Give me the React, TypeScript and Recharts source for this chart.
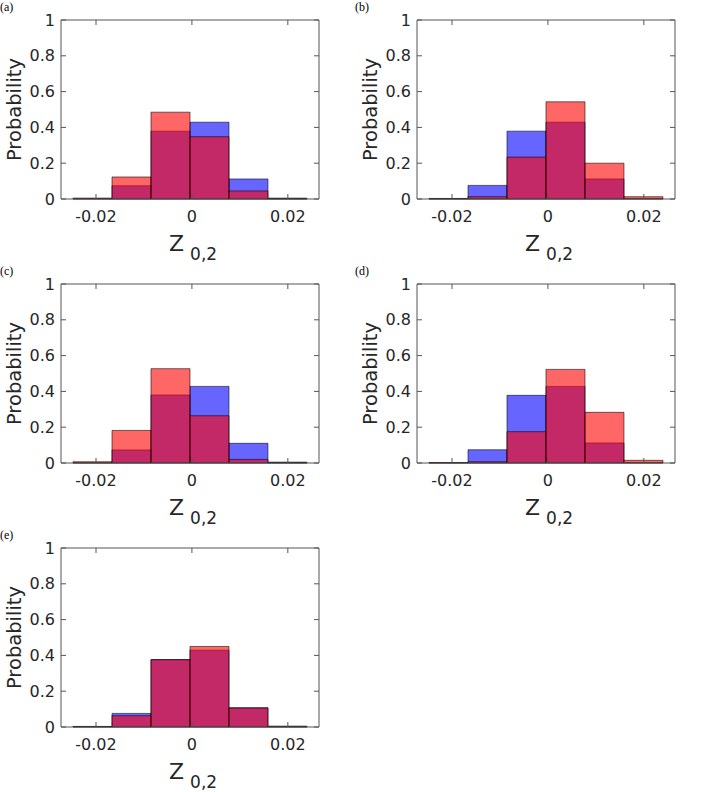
import React from 'react';
import { ComposedChart, Bar, XAxis, YAxis } from 'recharts';

// histogram bins (centres of the six bins) and axis ticks
const binCenters = [-0.02073, -0.0126, -0.00447, 0.00366, 0.01179, 0.01992];
const xTicks = [-0.02, 0, 0.02];
const yTicks = [0, 0.2, 0.4, 0.6, 0.8, 1];
const xDomain: [number, number] = [-0.0273, 0.0265];

// probabilities per bin
const blueA = [0.003, 0.074, 0.379, 0.429, 0.112, 0.005];
const redA = [0.005, 0.123, 0.485, 0.348, 0.045, 0.002];
const blueB = [0.003, 0.076, 0.379, 0.429, 0.112, 0.003];
const redB = [0.002, 0.013, 0.234, 0.543, 0.2, 0.013];
const blueC = [0.002, 0.073, 0.38, 0.428, 0.11, 0.005];
const redC = [0.007, 0.182, 0.527, 0.264, 0.02, 0.002];
const blueD = [0.002, 0.074, 0.378, 0.428, 0.112, 0.003];
const redD = [0.002, 0.007, 0.175, 0.523, 0.283, 0.015];
const blueE = [0.003, 0.076, 0.377, 0.429, 0.108, 0.004];
const redE = [0.003, 0.063, 0.376, 0.45, 0.106, 0.004];

const panelTags = ['(a)', '(b)', '(c)', '(d)', '(e)'];

const axisColor = '#555555';
const textColor = '#262626';
const font = 'DejaVu Sans, sans-serif';
const tickStyle = { fill: textColor, fontSize: 16, fontFamily: font };
const blank = () => '';

const ZLabel = (props: any) => {
  const { viewBox } = props;
  const cx = viewBox.x + viewBox.width / 2;
  return (
    <text x={cx - 21} y={viewBox.y + 52} fill={textColor} fontFamily={font}>
      <tspan fontSize={22}>Z</tspan>
      <tspan fontSize={17} dx={6} dy={9}>0,2</tspan>
    </text>
  );
};

const ProbLabel = (props: any) => {
  const { viewBox } = props;
  const x = viewBox.x + 21;
  const y = viewBox.y + viewBox.height / 2;
  return (
    <text x={x} y={y} transform={`rotate(-90, ${x}, ${y})`} textAnchor="middle" fill={textColor} fontFamily={font} fontSize={19.5}>
      Probability
    </text>
  );
};

interface PanelProps {
  blue: number[];
  red: number[];
  left: number;
  top: number;
  tag: string;
  tagLeft: number;
}

const HistPanel: React.FC<PanelProps> = ({ blue, red, left, top, tag, tagLeft }) => {
  const data = binCenters.map((c, i) => ({ c, blue: blue[i], red: red[i] }));
  return (
    <>
      <div style={{ position: 'absolute', left: tagLeft, top: top + 1, fontFamily: 'Liberation Serif, serif', fontSize: 12, lineHeight: '12px', color: '#000' }}>
        {tag}
      </div>
      <div style={{ position: 'absolute', left, top, width: 340, height: 268 }}>
        <ComposedChart width={340} height={268} data={data} margin={{ top: 18, right: 19, left: 0, bottom: 8 }} barCategoryGap={0} barGap={0}>
          <XAxis xAxisId="bottom" dataKey="c" type="number" domain={xDomain} ticks={xTicks} allowDataOverflow interval={0}
            height={61} tickSize={-5} tickMargin={17} tick={tickStyle} stroke={axisColor} label={<ZLabel />} />
          <XAxis xAxisId="top" orientation="top" dataKey="c" type="number" domain={xDomain} ticks={xTicks} allowDataOverflow interval={0}
            height={2} tickSize={-5} tickMargin={0} tickFormatter={blank} stroke={axisColor} />
          <YAxis yAxisId="left" type="number" domain={[0, 1]} ticks={yTicks} interval={0}
            width={61} tickSize={-5} tickMargin={11} tick={tickStyle} stroke={axisColor} label={<ProbLabel />} />
          <YAxis yAxisId="right" orientation="right" type="number" domain={[0, 1]} ticks={yTicks} interval={0}
            width={2} tickSize={-5} tickMargin={0} tickFormatter={blank} stroke={axisColor} />
          <Bar xAxisId="bottom" yAxisId="left" dataKey="blue" fill="#0000ff" fillOpacity={0.6}
            stroke="#000" strokeOpacity={0.7} strokeWidth={0.8} isAnimationActive={false} />
          <Bar xAxisId="top" yAxisId="right" dataKey="red" fill="#ff0000" fillOpacity={0.6}
            stroke="#000" strokeOpacity={0.7} strokeWidth={0.8} isAnimationActive={false} />
        </ComposedChart>
      </div>
    </>
  );
};

export default function App() {
  return (
    <div style={{ position: 'absolute', left: 0, top: 0, width: 708, height: 792, background: '#fff' }}>
      <HistPanel blue={blueA} red={redA} left={0} top={0} tag={panelTags[0]} tagLeft={0} />
      <HistPanel blue={blueB} red={redB} left={356} top={0} tag={panelTags[1]} tagLeft={355} />
      <HistPanel blue={blueC} red={redC} left={0} top={264} tag={panelTags[2]} tagLeft={0} />
      <HistPanel blue={blueD} red={redD} left={356} top={264} tag={panelTags[3]} tagLeft={355} />
      <HistPanel blue={blueE} red={redE} left={0} top={528} tag={panelTags[4]} tagLeft={0} />
    </div>
  );
}
